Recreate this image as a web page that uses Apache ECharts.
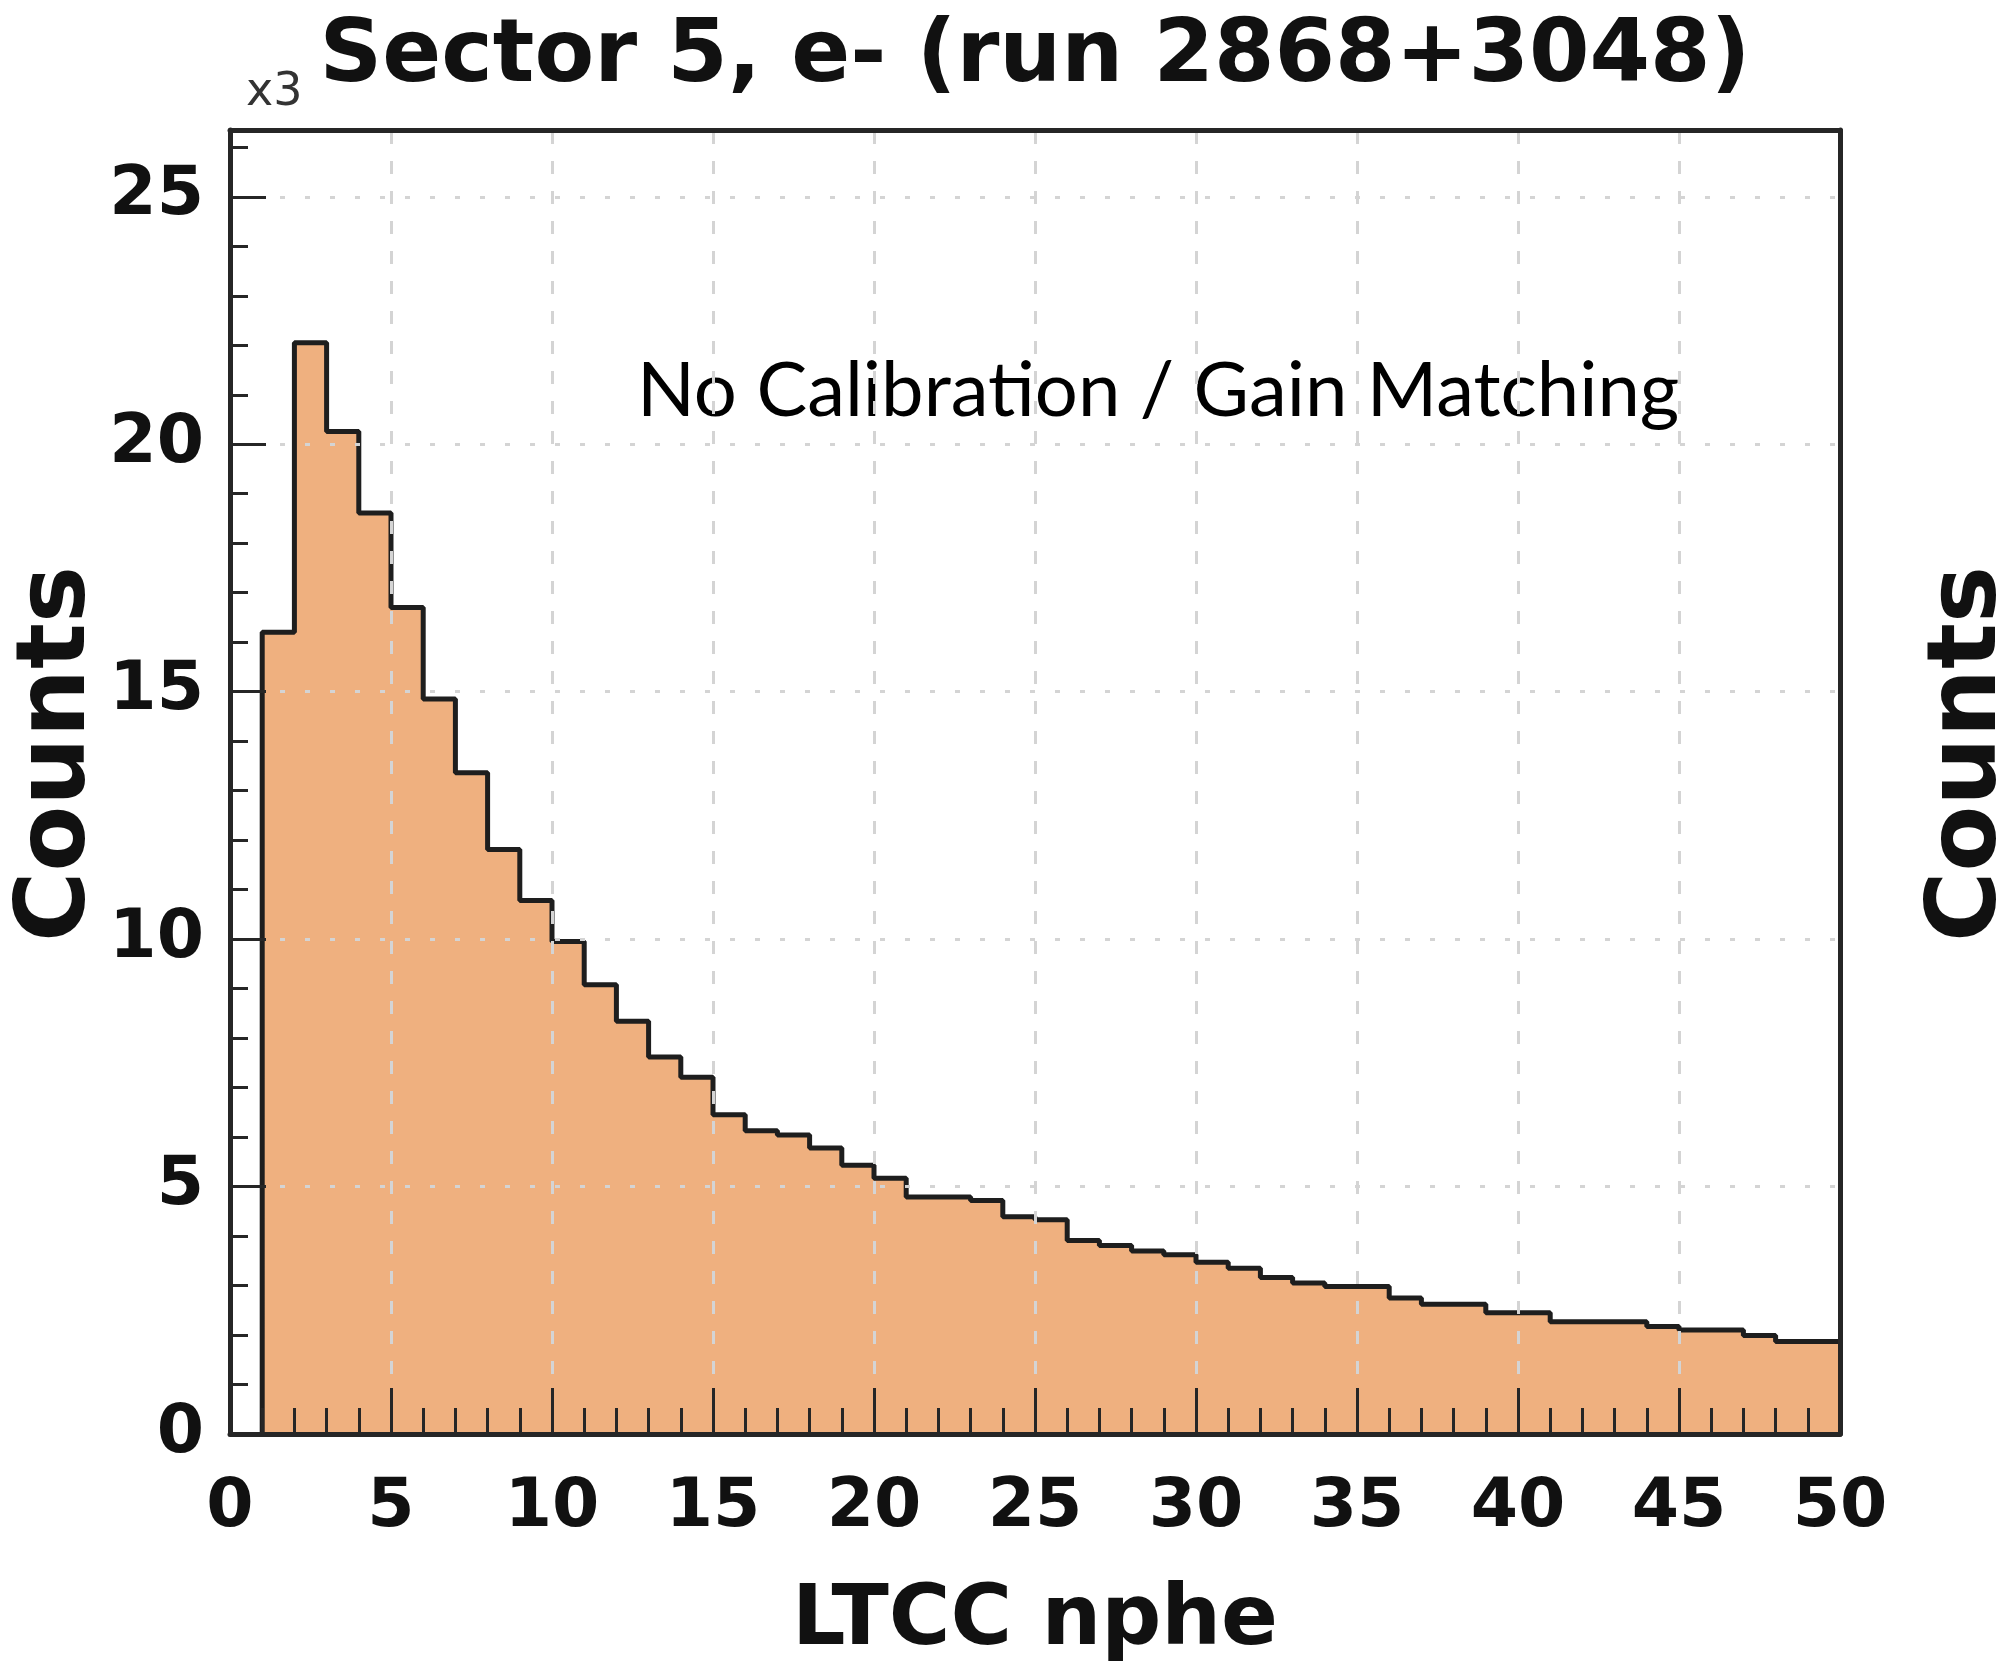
<!DOCTYPE html>
<html>
<head>
<meta charset="utf-8">
<script src="https://cdn.jsdelivr.net/npm/echarts@6/dist/echarts.min.js"></script>
<style>
html,body{margin:0;padding:0;background:#ffffff;}
#chart{width:2004px;height:1672px;}
</style>
</head>
<body>
<div id="chart"></div>
<script>
// ---- data (counts in units of 10^3) ----
const binEdges = [1,2,3,4,5,6,7,8,9,10,11,12,13,14,15,16,17,18,19,20,21,22,23,24,25,
                  26,27,28,29,30,31,32,33,34,35,36,37,38,39,40,41,42,43,44,45,46,47,48,49,50];
const counts = [16.20,22.05,20.26,18.61,16.70,14.85,13.36,11.81,10.78,9.95,
                9.08,8.34,7.62,7.21,6.45,6.13,6.04,5.78,5.43,5.17,
                4.79,4.79,4.72,4.39,4.33,3.91,3.81,3.70,3.62,3.47,
                3.35,3.16,3.05,2.98,2.98,2.75,2.62,2.62,2.45,2.45,
                2.27,2.27,2.27,2.17,2.10,2.10,1.99,1.87,1.87];
const xTickLabels = [0,5,10,15,20,25,30,35,40,45,50];
const yTickLabels = [0,5,10,15,20,25];
const titleText = 'Sector 5, e- (run 2868+3048)';
const exponentText = 'x3';
const xAxisName = 'LTCC nphe';
const yAxisName = 'Counts';
const annotationText = 'No Calibration / Gain Matching';

// step outline points: start at left edge of first bin from zero
const stepPoints = [[binEdges[0], 0]];
for (let i = 0; i < counts.length; i++) stepPoints.push([binEdges[i], counts[i]]);
stepPoints.push([binEdges[binEdges.length - 1], counts[counts.length - 1]]);

const FONT = 'DejaVu Sans';
const DARK = '#262626';
const GRID = '#d4d4d4';

// grid lines drawn above the fill (as in the reference)
const gridMarks = [];
xTickLabels.slice(1, -1).forEach(v => gridMarks.push({xAxis: v, lineStyle: {color: GRID, width: 3, type: [13, 17]}}));
yTickLabels.slice(1).forEach(v => gridMarks.push({yAxis: v, lineStyle: {color: GRID, width: 3, type: [5, 20]}}));

const chart = echarts.init(document.getElementById('chart'), null, {renderer: 'canvas'});
chart.setOption({
  backgroundColor: '#ffffff',
  animation: false,
  title: {
    text: titleText,
    left: 1030,
    top: 10,
    textAlign: 'center',
    textStyle: {fontFamily: FONT, fontWeight: 'bold', fontSize: 87, color: '#111'}
  },
  grid: {left: 230, right: 164, top: 130, bottom: 238, containLabel: false, outerBoundsMode: 'none'},
  xAxis: [{
    type: 'value', min: xTickLabels[0], max: xTickLabels[xTickLabels.length - 1], interval: 5, z: 5,
    axisLine: {show: true, onZero: false, lineStyle: {color: DARK, width: 5}},
    axisTick: {show: true, inside: true, length: 46, lineStyle: {color: DARK, width: 3}},
    minorTick: {show: true, splitNumber: 5, length: 26, lineStyle: {color: DARK, width: 3}},
    splitLine: {show: false},
    axisLabel: {show: true, margin: 40, fontFamily: FONT, fontWeight: 'bold', fontSize: 68, color: '#111'},
    name: xAxisName, nameLocation: 'middle', nameGap: 146,
    nameTextStyle: {fontFamily: FONT, fontWeight: 'bold', fontSize: 84, color: '#111'}
  }, {
    type: 'value', position: 'top', min: 0, max: 50, z: 5,
    axisLine: {show: true, onZero: false, lineStyle: {color: DARK, width: 5}},
    axisTick: {show: false}, axisLabel: {show: false}, splitLine: {show: false}
  }],
  yAxis: [{
    type: 'value', min: yTickLabels[0], max: 26.35, interval: 5, z: 5,
    axisLine: {show: true, onZero: false, lineStyle: {color: DARK, width: 5}},
    axisTick: {show: true, inside: true, length: 36, lineStyle: {color: DARK, width: 3}},
    minorTick: {show: true, splitNumber: 5, length: 18, lineStyle: {color: DARK, width: 3}},
    splitLine: {show: false},
    axisLabel: {show: true, margin: 26, showMaxLabel: false, fontFamily: FONT, fontWeight: 'bold', fontSize: 68, color: '#111'},
    name: yAxisName, nameLocation: 'middle', nameGap: 123, nameRotate: 90, nameMoveOverlap: false,
    nameTextStyle: {fontFamily: FONT, fontWeight: 'bold', fontSize: 96, color: '#111', padding: [0, 0, 0, 56]}
  }, {
    type: 'value', position: 'right', min: 0, max: 26.35, z: 5,
    axisLine: {show: true, onZero: false, lineStyle: {color: DARK, width: 5}},
    axisTick: {show: false}, axisLabel: {show: false}, splitLine: {show: false}
  }],
  graphic: [
    {type: 'text', left: 246, top: 70,
     style: {text: exponentText, fontFamily: FONT, fontSize: 46, fill: '#333'}},
    {type: 'text', left: 637, top: 353,
     style: {text: annotationText, fontFamily: 'Lato', fontWeight: 400, fontSize: 76, fill: '#000'}},
    {type: 'text', x: 2018, y: 754, rotation: Math.PI / 2,
     style: {text: yAxisName, fontFamily: FONT, fontWeight: 'bold', fontSize: 96, fill: '#111',
             align: 'center', verticalAlign: 'bottom'}}
  ],
  series: [{
    type: 'line',
    xAxisIndex: 0, yAxisIndex: 0,
    data: stepPoints,
    step: 'end',
    symbol: 'none',
    z: 2,
    lineStyle: {color: '#1e1e1e', width: 5},
    areaStyle: {color: '#EFB07F', opacity: 1}
  }, {
    type: 'line',
    xAxisIndex: 0, yAxisIndex: 0,
    data: [],
    z: 3,
    silent: true,
    markLine: {
      silent: true,
      symbol: ['none', 'none'],
      label: {show: false},
      animation: false,
      data: gridMarks
    }
  }]
});
</script>
</body>
</html>
